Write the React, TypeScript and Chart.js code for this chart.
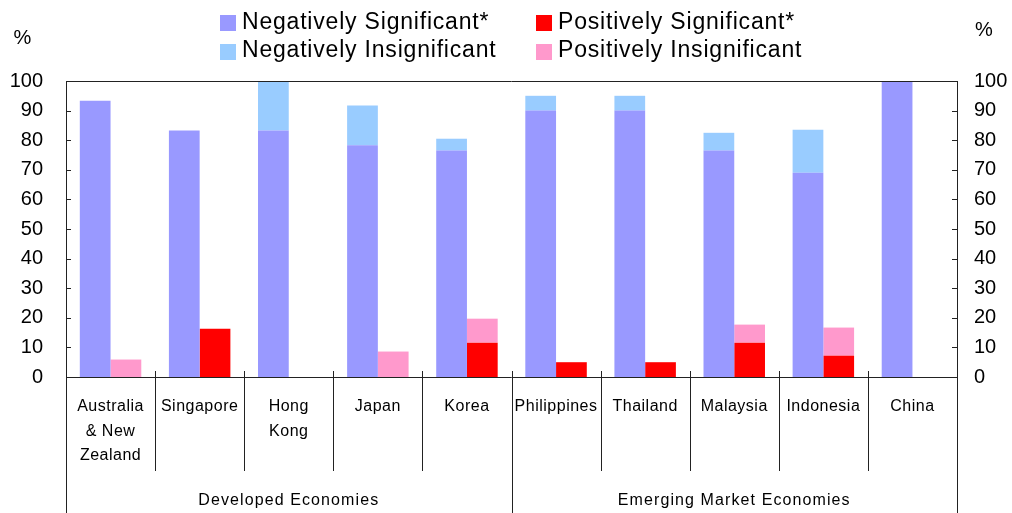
import React, { useEffect, useRef } from 'react';
import { Chart, registerables } from 'chart.js';

Chart.register(...registerables);

// ---- Data ----
const categoryLines: string[][] = [
  ['Australia', '& New', 'Zealand'],
  ['Singapore'],
  ['Hong', 'Kong'],
  ['Japan'],
  ['Korea'],
  ['Philippines'],
  ['Thailand'],
  ['Malaysia'],
  ['Indonesia'],
  ['China'],
];
const categories = categoryLines.map((l) => l.join(' '));

const negSig = [93.3, 83.3, 83.3, 78.3, 76.5, 90, 90, 76.5, 69, 100];
const negInsig = [0, 0, 16.7, 13.4, 4, 5, 5, 6, 14.5, 0];
const posSig = [0, 16.3, 0, 0, 11.6, 5, 5, 11.6, 7.2, 0];
const posInsig = [5.9, 0, 0, 8.6, 8.1, 0, 0, 6.1, 9.5, 0];

const groupLabels = ['Developed Economies', 'Emerging Market Economies'];
const groupSizes = [5, 5];

const seriesNames = [
  'Negatively Significant*',
  'Negatively Insignificant',
  'Positively Significant*',
  'Positively Insignificant',
];
const seriesColors = ['#9999FF', '#99CCFF', '#FF0000', '#FF99CC'];

const yMin = 0;
const yMax = 100;
const yStep = 10;
const unitLabel = '%';

const FONT = '"Liberation Sans", Arial, Helvetica, sans-serif';

const overlayPlugin = {
  id: 'overlay',
  afterDraw(chart: any) {
    const { ctx, chartArea } = chart;
    const { left, right, top, bottom } = chartArea;
    const n = categories.length;
    const step = (right - left) / n;
    const H = chart.height;
    const yScale = chart.scales.y;

    ctx.save();
    ctx.strokeStyle = '#222';
    ctx.lineWidth = 1;

    const line = (x1: number, y1: number, x2: number, y2: number) => {
      ctx.beginPath();
      ctx.moveTo(x1, y1);
      ctx.lineTo(x2, y2);
      ctx.stroke();
    };

    // top border and x axis
    line(left, Math.round(top) + 0.5, right, Math.round(top) + 0.5);
    line(left, Math.round(bottom) + 0.5, right, Math.round(bottom) + 0.5);
    // left & right axes extended to bottom
    line(Math.round(left) + 0.5, top, Math.round(left) + 0.5, H);
    line(Math.round(right) + 0.5, top, Math.round(right) + 0.5, H);

    // ticks inward
    for (let v = yMin; v <= yMax; v += yStep) {
      const py = Math.round(yScale.getPixelForValue(v)) + 0.5;
      line(left, py, left + 5, py);
      line(right - 5, py, right, py);
    }

    // category separators
    const groupStarts = new Set<number>();
    let acc = 0;
    groupSizes.forEach((s) => {
      groupStarts.add(acc);
      acc += s;
    });
    for (let i = 1; i < n; i++) {
      const px = Math.round(left + i * step) + 0.5;
      if (groupStarts.has(i)) {
        line(px, bottom - 6, px, H);
      } else {
        line(px, bottom - 6, px, bottom + 94);
      }
    }

    // category labels
    ctx.fillStyle = '#000';
    ctx.textAlign = 'center';
    ctx.textBaseline = 'alphabetic';
    ctx.font = `16px ${FONT}`;
    (ctx as any).letterSpacing = '0.5px';
    categoryLines.forEach((lines, i) => {
      const cx = left + (i + 0.5) * step;
      lines.forEach((t, j) => {
        ctx.fillText(t, cx, bottom + 34 + j * 24.5);
      });
    });

    // group labels
    (ctx as any).letterSpacing = '1.1px';
    acc = 0;
    groupLabels.forEach((g, gi) => {
      const x1 = left + acc * step;
      acc += groupSizes[gi];
      const x2 = left + acc * step;
      ctx.fillText(g, (x1 + x2) / 2, bottom + 128);
    });

    // unit labels
    (ctx as any).letterSpacing = '0px';
    ctx.font = `20px ${FONT}`;
    ctx.fillText(unitLabel, 22.5, 43.5);
    ctx.fillText(unitLabel, 984, 36);

    // legend
    ctx.font = `23px ${FONT}`;
    (ctx as any).letterSpacing = '0.8px';
    ctx.textAlign = 'left';
    const legendPos = [
      { bx: 220, by: 15, tx: 242, ty: 28.5 },
      { bx: 220, by: 44, tx: 242, ty: 56.5 },
      { bx: 536, by: 15, tx: 558, ty: 28.5 },
      { bx: 536, by: 44, tx: 558, ty: 56.5 },
    ];
    seriesNames.forEach((name, i) => {
      const p = legendPos[i];
      ctx.fillStyle = seriesColors[i];
      ctx.fillRect(p.bx, p.by, 16, 16);
      ctx.fillStyle = '#000';
      ctx.fillText(name, p.tx, p.ty);
    });
    (ctx as any).letterSpacing = '0px';
    ctx.restore();
  },
};

export default function App() {
  const ref = useRef<HTMLCanvasElement | null>(null);

  useEffect(() => {
    if (!ref.current) return;
    const seriesData = [negSig, negInsig, posSig, posInsig];
    const stacks = ['neg', 'neg', 'pos', 'pos'];
    const chart = new Chart(ref.current, {
      type: 'bar',
      data: {
        labels: categories,
        datasets: seriesNames.map((name, i) => ({
          label: name,
          data: seriesData[i],
          backgroundColor: seriesColors[i],
          borderWidth: 0,
          stack: stacks[i],
          categoryPercentage: 0.69,
          barPercentage: 1,
        })),
      },
      options: {
        animation: false,
        responsive: false,
        maintainAspectRatio: false,
        layout: { padding: { top: 81, left: 0, right: 0, bottom: 0 } },
        plugins: {
          legend: { display: false },
          tooltip: { enabled: false },
          title: { display: false },
        },
        scales: {
          x: {
            stacked: true,
            grid: { display: false },
            border: { display: false },
            ticks: { display: false },
            afterFit: (s: any) => {
              s.height = 136;
            },
          },
          y: {
            stacked: true,
            position: 'left',
            min: yMin,
            max: yMax,
            grid: { display: false, drawTicks: false },
            border: { display: false },
            ticks: {
              stepSize: yStep,
              padding: 23,
              color: '#000',
              font: { family: FONT, size: 20 },
            },
            afterFit: (s: any) => {
              s.width = 66;
            },
          },
          y2: {
            position: 'right',
            min: yMin,
            max: yMax,
            grid: { display: false, drawTicks: false },
            border: { display: false },
            ticks: {
              stepSize: yStep,
              padding: 17,
              color: '#000',
              font: { family: FONT, size: 20 },
            },
            afterFit: (s: any) => {
              s.width = 55;
            },
          },
        },
      },
      plugins: [overlayPlugin],
    } as any);
    return () => chart.destroy();
  }, []);

  return (
    <div style={{ position: 'fixed', left: 0, top: 0, width: 1012, height: 513, background: '#fff' }}>
      <canvas ref={ref} width={1012} height={513} style={{ width: 1012, height: 513, display: 'block' }} />
    </div>
  );
}
